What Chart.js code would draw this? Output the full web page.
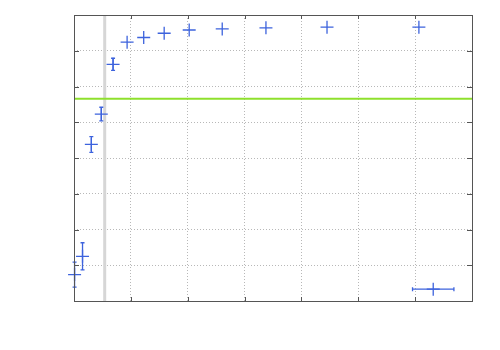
<!DOCTYPE html>
<html>
<head>
<meta charset="utf-8">
<script src="https://cdn.jsdelivr.net/npm/chart.js@4"></script>
<style>
  html, body { margin: 0; padding: 0; background: #fff; }
  #wrap { width: 500px; height: 350px; }
</style>
</head>
<body>
<div id="wrap"><canvas id="chart"></canvas></div>
<script>
// measured points (x, y) with their error bars
const xValues = [0.01, 0.15, 0.305, 0.48, 0.687, 0.934, 1.226, 1.586, 2.026, 2.607, 3.376, 4.45, 6.066, 6.318];
const yValues = [0.74, 1.25, 4.38, 5.23, 6.62, 7.24, 7.37, 7.49, 7.58, 7.61, 7.64, 7.66, 7.66, 0.33];
const xErrors = [0, 0, 0, 0, 0, 0, 0, 0, 0, 0, 0, 0, 0, 0.364];
const yErrors = [0.35, 0.38, 0.22, 0.19, 0.17, 0, 0, 0, 0, 0, 0, 0, 0, 0];

// reference lines
const thresholdY = 5.66;
const cutoffX = 0.54;

const xRange = [0, 7];
const yRange = [0, 8];

const pointColor = "#3d63dd";

const points = xValues.map((x, i) => ({ x: x, y: yValues[i], xe: xErrors[i], ye: yErrors[i] }));

// draws the error bars with small caps
const errorBars = {
    id: "errorBars",
    afterDatasetsDraw: (chart) => {
        const { ctx, scales } = chart;
        const xs = scales.x, ys = scales.y;
        const cap = 2;
        ctx.save();
        ctx.strokeStyle = pointColor;
        ctx.lineWidth = 1.3;
        points.forEach((p) => {
            const px = xs.getPixelForValue(p.x);
            const py = ys.getPixelForValue(p.y);
            ctx.beginPath();
            if (p.ye > 0) {
                const y1 = ys.getPixelForValue(p.y - p.ye);
                const y2 = ys.getPixelForValue(p.y + p.ye);
                ctx.moveTo(px, y1); ctx.lineTo(px, y2);
                ctx.moveTo(px - cap, y1); ctx.lineTo(px + cap, y1);
                ctx.moveTo(px - cap, y2); ctx.lineTo(px + cap, y2);
            }
            if (p.xe > 0) {
                const x1 = xs.getPixelForValue(p.x - p.xe);
                const x2 = xs.getPixelForValue(p.x + p.xe);
                ctx.moveTo(x1, py); ctx.lineTo(x2, py);
                ctx.moveTo(x1, py - cap); ctx.lineTo(x1, py + cap);
                ctx.moveTo(x2, py - cap); ctx.lineTo(x2, py + cap);
            }
            ctx.stroke();
        });
        ctx.restore();
    }
};

// frame with inward tick marks, like the original
const frame = {
    id: "frame",
    afterDraw: (chart) => {
        const { ctx, chartArea: a, scales } = chart;
        ctx.save();
        ctx.strokeStyle = "#555";
        ctx.lineWidth = 1;
        ctx.strokeRect(a.left + 0.5, a.top + 0.5, a.right - a.left, a.bottom - a.top);
        ctx.beginPath();
        scales.x.ticks.forEach((t) => {
            const px = Math.round(scales.x.getPixelForValue(t.value)) + 0.5;
            ctx.moveTo(px, a.bottom); ctx.lineTo(px, a.bottom - 4);
            ctx.moveTo(px, a.top); ctx.lineTo(px, a.top + 4);
        });
        scales.y.ticks.forEach((t) => {
            const py = Math.round(scales.y.getPixelForValue(t.value)) + 0.5;
            ctx.moveTo(a.left, py); ctx.lineTo(a.left + 5, py);
            ctx.moveTo(a.right, py); ctx.lineTo(a.right - 5, py);
        });
        ctx.stroke();
        ctx.restore();
    }
};

new Chart(document.getElementById("chart"), {
    type: "scatter",
    data: {
        datasets: [
            {
                type: "line",
                data: [{ x: cutoffX, y: yRange[0] }, { x: cutoffX, y: yRange[1] }],
                borderColor: "#d6d6d6",
                borderWidth: 3,
                pointRadius: 0,
                order: 3
            },
            {
                type: "line",
                data: [{ x: xRange[0], y: thresholdY }, { x: xRange[1], y: thresholdY }],
                borderColor: "#8ee02c",
                borderWidth: 2,
                pointRadius: 0,
                order: 2
            },
            {
                data: points,
                pointStyle: "cross",
                pointRadius: 6.5,
                pointBorderWidth: 1.3,
                borderColor: pointColor,
                backgroundColor: pointColor,
                clip: false,
                order: 1
            }
        ]
    },
    options: {
        responsive: true,
        maintainAspectRatio: false,
        animation: false,
        layout: { padding: { left: 74, right: 28, top: 15, bottom: 49 } },
        plugins: {
            legend: { display: false },
            tooltip: { enabled: false }
        },
        scales: {
            x: {
                type: "linear",
                min: xRange[0],
                max: xRange[1],
                ticks: { display: false, stepSize: 1 },
                border: { display: false, dash: [1, 2] },
                grid: { color: "#b8b8b8", drawTicks: false }
            },
            y: {
                type: "linear",
                min: yRange[0],
                max: yRange[1],
                ticks: { display: false, stepSize: 1 },
                border: { display: false, dash: [1, 2] },
                grid: { color: "#b8b8b8", drawTicks: false }
            }
        }
    },
    plugins: [errorBars, frame]
});
</script>
</body>
</html>
